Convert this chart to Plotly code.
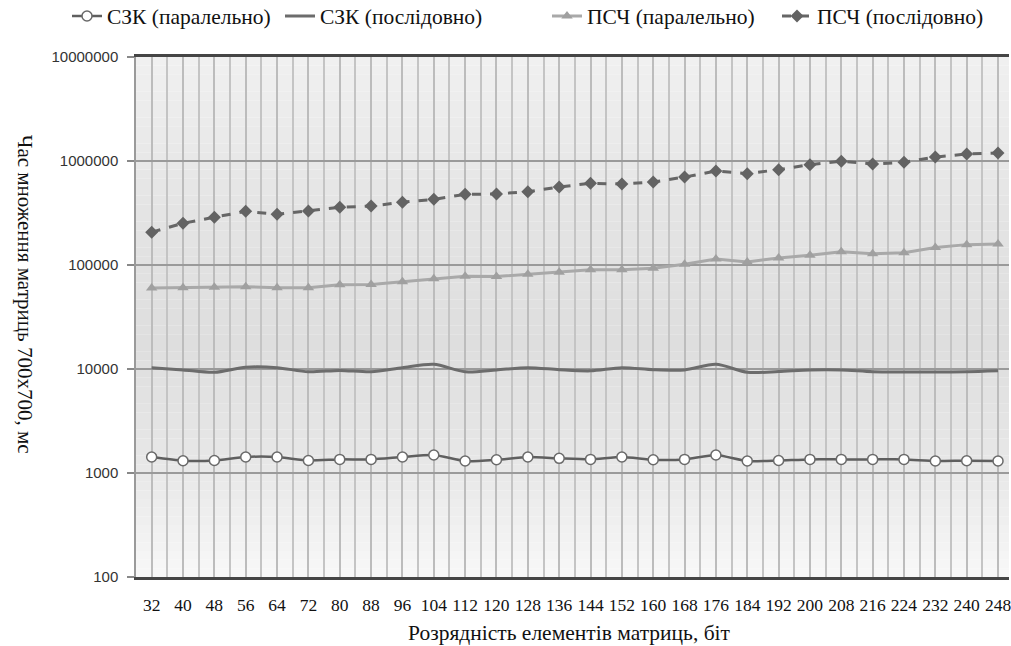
import plotly.graph_objects as go

# Bit width of matrix elements
bit_width = [32, 40, 48, 56, 64, 72, 80, 88, 96, 104, 112, 120, 128, 136,
             144, 152, 160, 168, 176, 184, 192, 200, 208, 216, 224, 232, 240, 248]

# Multiplication time of 700x700 matrices, ms
szk_parallel = [1425, 1313, 1320, 1425, 1425, 1320, 1352, 1352, 1425, 1489, 1303, 1340, 1425, 1383,
                1352, 1425, 1340, 1352, 1489, 1303, 1320, 1352, 1352, 1352, 1352, 1303, 1313, 1303]
szk_serial = [10300, 9800, 9300, 10400, 10300, 9400, 9700, 9400, 10300, 11100, 9400, 9800, 10300, 9850,
              9600, 10300, 9850, 9800, 11100, 9300, 9450, 9800, 9800, 9400, 9350, 9350, 9400, 9600]
psch_parallel = [60100, 60500, 61000, 61800, 60500, 60500, 64500, 64900, 69000, 73800, 77800, 77400, 81500, 85200,
                 90200, 90200, 93000, 101600, 114000, 107000, 117000, 124000, 134000, 128000, 131000, 147000, 157000, 159000]
psch_serial = [207000, 252000, 288000, 328000, 307000, 330000, 359000, 369000, 401000, 428000, 478000, 482000, 507000, 562000,
               611000, 601000, 628000, 701000, 801000, 755000, 826000, 922000, 994000, 936000, 971000, 1092000, 1166000, 1194000]

y_ticks = [100, 1000, 10000, 100000, 1000000, 10000000]
y_tick_labels = ["100", "1000", "10000", "100000", "1000000", "10000000"]

names = ["СЗК (паралельно)", "СЗК (послідовно)", "ПСЧ (паралельно)", "ПСЧ (послідовно)"]

W, H = 1011, 646
M_L, M_R, M_T, M_B = 136, 0, 57, 69
serif = "Liberation Serif"
sans = "Liberation Sans"

fig = go.Figure()

fig.add_trace(go.Scatter(
    x=bit_width, y=szk_parallel, name=names[0], mode="lines+markers",
    line=dict(color="#5f5f5f", width=2.5, shape="spline", smoothing=0.6),
    marker=dict(symbol="circle", size=10, color="white", line=dict(color="#6a6a6a", width=1.5)),
    legend="legend",
))
fig.add_trace(go.Scatter(
    x=bit_width, y=szk_serial, name=names[1], mode="lines",
    line=dict(color="#6c6c6c", width=3, shape="spline", smoothing=0.8),
    legend="legend2",
))
fig.add_trace(go.Scatter(
    x=bit_width, y=psch_parallel, name=names[2], mode="lines+markers",
    line=dict(color="#a9a9a9", width=3),
    marker=dict(symbol="triangle-up", size=10, color="#a0a0a0"),
    legend="legend3",
))
fig.add_trace(go.Scatter(
    x=bit_width, y=psch_serial, name=names[3], mode="lines+markers",
    line=dict(color="#666666", width=3, dash="dash"),
    marker=dict(symbol="diamond", size=10, color="#636363"),
    legend="legend4",
))

# Vertical grey gradient behind the plot area
stops = [(0.0, 248), (0.2, 232), (0.45, 222), (0.7, 228), (1.0, 240)]


def shade(t):
    for (t0, c0), (t1, c1) in zip(stops[:-1], stops[1:]):
        if t0 <= t <= t1:
            return round(c0 + (c1 - c0) * (t - t0) / (t1 - t0))
    return stops[-1][1]


bands = 60
shapes = []
for i in range(bands):
    g = shade((i + 0.5) / bands)
    shapes.append(dict(
        type="rect", xref="paper", yref="paper",
        x0=0, x1=1, y0=i / bands, y1=(i + 1) / bands,
        fillcolor=f"rgb({g},{g},{g})", line=dict(width=0), layer="below",
    ))

legend_common = dict(
    orientation="h", xref="container", yref="container",
    xanchor="left", yanchor="middle", bgcolor="rgba(0,0,0,0)",
    font=dict(family=serif, size=21.5, color="#111"), itemwidth=30,
)
legend_x = [67, 280, 547, 777]
legend_y = 1 - 16 / H

fig.update_layout(
    width=W, height=H,
    margin=dict(l=M_L, r=M_R, t=M_T, b=M_B),
    paper_bgcolor="white", plot_bgcolor="rgba(0,0,0,0)",
    shapes=shapes,
    showlegend=True,
    legend=dict(x=legend_x[0] / W, y=legend_y, **legend_common),
    legend2=dict(x=legend_x[1] / W, y=legend_y, **legend_common),
    legend3=dict(x=legend_x[2] / W, y=legend_y, **legend_common),
    legend4=dict(x=legend_x[3] / W, y=legend_y, **legend_common),
    xaxis=dict(
        range=[28, 250.8], tickmode="array", tickvals=bit_width,
        ticktext=[str(b) for b in bit_width],
        tickfont=dict(family=serif, size=17.5, color="#111"),
        ticks="", ticklabelstandoff=10, ticklabeloverflow="allow",
        showgrid=True, gridcolor="#bcbcbc", gridwidth=1.5,
        minor=dict(tick0=36, dtick=8, showgrid=True, gridcolor="#c4c4c4", gridwidth=1.5),
        showline=True, linecolor="#454545", linewidth=2.5, mirror=True,
        zeroline=False,
    ),
    yaxis=dict(
        type="log", range=[2, 7], tickmode="array",
        tickvals=y_ticks, ticktext=y_tick_labels,
        tickfont=dict(family=sans, size=15, color="#333"),
        ticks="outside", ticklen=7, tickcolor="#888", tickwidth=1.5,
        ticklabelstandoff=6,
        showgrid=True, gridcolor="#9a9a9a", gridwidth=1.5,
        showline=True, linecolor="#9a9a9a", linewidth=1.5,
        zeroline=False,
    ),
    annotations=[
        dict(text="Розрядність елементів матриць, біт", xref="paper", yref="paper",
             x=(570 - M_L) / (W - M_L - M_R), y=(H - M_B - 633) / (H - M_T - M_B),
             xanchor="center", yanchor="middle", showarrow=False,
             font=dict(family=serif, size=21.5, color="#111")),
        dict(text="Час множення матриць 700х700, мс", xref="paper", yref="paper",
             x=(25 - M_L) / (W - M_L - M_R), y=(H - M_B - 294) / (H - M_T - M_B),
             xanchor="center", yanchor="middle", showarrow=False, textangle=90,
             font=dict(family=serif, size=21, color="#111")),
    ],
)

fig.write_html("out.html")
